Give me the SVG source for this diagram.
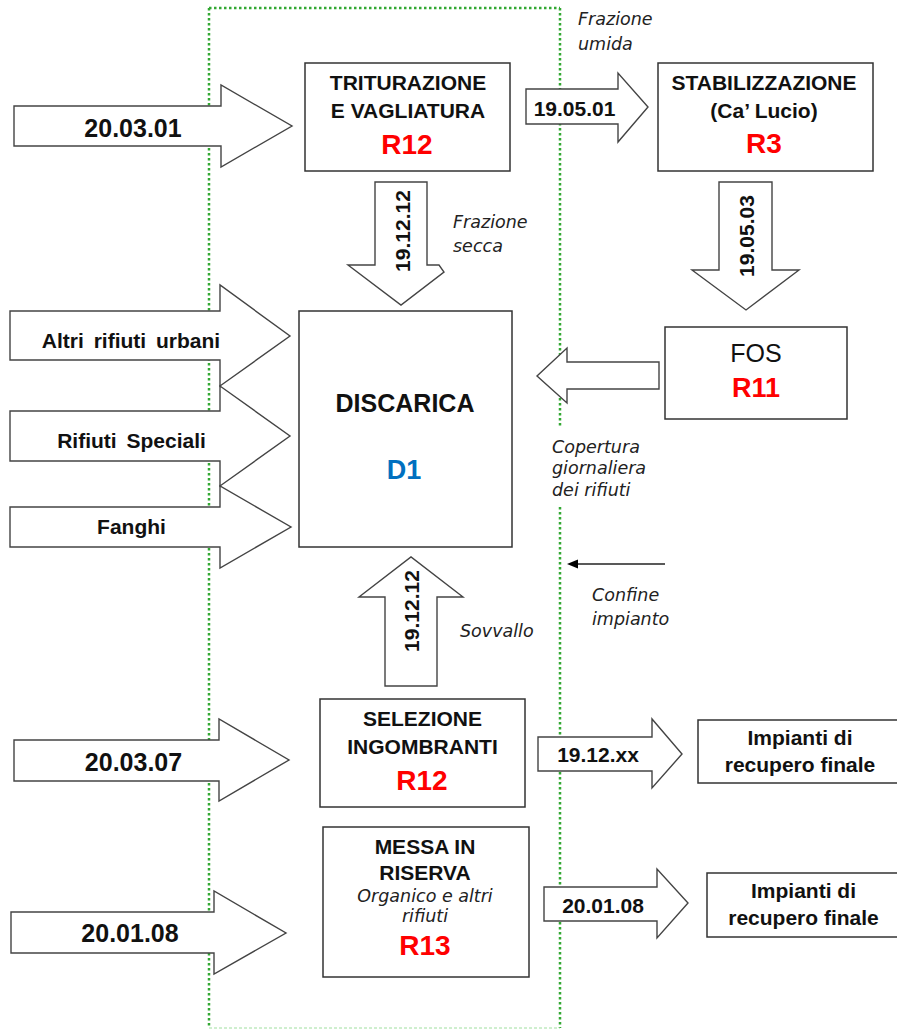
<svg xmlns="http://www.w3.org/2000/svg" width="897" height="1029" viewBox="0 0 897 1029">
<style>
.bg{fill:#ffffff}
.box{fill:#ffffff;stroke:#333333;stroke-width:1.5}
.arr{fill:#ffffff;stroke:#444444;stroke-width:1.4;stroke-linejoin:miter}
.b{font-family:"Liberation Sans",Arial,sans-serif;font-weight:bold;fill:#111111;text-anchor:middle}
.r{font-family:"Liberation Sans",Arial,sans-serif;fill:#111111;text-anchor:middle}
.code{font-family:"Liberation Sans",Arial,sans-serif;font-weight:bold;font-size:28px;fill:#ff0000;text-anchor:middle}
.it{font-family:"DejaVu Sans",Verdana,sans-serif;font-style:italic;font-size:17.5px;fill:#222222}
.f21{font-size:21px}
.f25{font-size:25px}
.green{fill:none;stroke:#33a833;stroke-width:2.5;stroke-dasharray:2.5 2.5}
.green2{fill:none;stroke:#9fdf9f;stroke-width:1;stroke-dasharray:3 2}
</style>
<rect class="bg" x="0" y="0" width="897" height="1029"/>

<g id="boundary">
<line class="green" x1="209" y1="8" x2="560" y2="8"/>
<line class="green" x1="209" y1="8" x2="209" y2="1028"/>
<line class="green" x1="560" y1="8" x2="560" y2="428"/>
<line class="green" x1="560" y1="507" x2="560" y2="1028"/>
<line class="green2" x1="209" y1="1028" x2="560" y2="1028"/>
</g>

<g id="connectors">
<g id="a-200301">
<polygon class="arr" points="14,106 221,106 221,85 292,126 221,167 221,146 14,146"/>
<text class="b f25" x="133" y="137">20.03.01</text>
</g>
<g id="a-191212-down">
<polygon class="arr" points="375,182 427,182 427,265 439,265 444,272 401,305 348,265 375,265"/>
<text class="b f21" transform="translate(409.5,231) rotate(-90)">19.12.12</text>
</g>
<g id="a-190501">
<polygon class="arr" points="526,89 618,89 618,73 648,107 618,142 618,124 526,124"/>
<text class="b f21" x="574.5" y="116">19.05.01</text>
</g>
<g id="a-190503">
<polygon class="arr" points="719,182 772,182 772,270 799,270 746,310 692,270 719,270"/>
<text class="b f21" transform="translate(754,236) rotate(-90)">19.05.03</text>
</g>
<g id="a-fos">
<polygon class="arr" points="659,362 567,362 567,348 537,376 567,403 567,389 659,389"/>
</g>
<g id="a-altri">
<polygon class="arr" points="10,311 220,311 220,285 290,336 220,386 220,360 10,360"/>
<text class="b f21" x="131" y="348" style="word-spacing:4px">Altri rifiuti urbani</text>
</g>
<g id="a-speciali">
<polygon class="arr" points="10,411 220,411 220,386 290,436 220,486 220,461 10,461"/>
<text class="b f21" x="131.5" y="448" style="word-spacing:4px">Rifiuti Speciali</text>
</g>
<g id="a-fanghi">
<polygon class="arr" points="10,507 220,507 220,486 291,527 220,568 220,547 10,547"/>
<text class="b f21" x="131.5" y="534">Fanghi</text>
</g>
<g id="a-191212-up">
<polygon class="arr" points="385,686 437,686 437,597 463,597 411,557 359,597 385,597"/>
<text class="b f21" transform="translate(419,611) rotate(-90)">19.12.12</text>
</g>
<g id="a-200307">
<polygon class="arr" points="14,740 219,740 219,719 289,760 219,801 219,781 14,781"/>
<text class="b f25" x="133.5" y="771">20.03.07</text>
</g>
<g id="a-1912xx">
<polygon class="arr" points="538,737 652,737 652,719 682,754 652,788 652,771 538,771"/>
<text class="b f21" x="598" y="762">19.12.xx</text>
</g>
<g id="a-200108-in">
<polygon class="arr" points="11,912 214,912 214,891 286,933 214,974 214,953 11,953"/>
<text class="b f25" x="130" y="942">20.01.08</text>
</g>
<g id="a-200108-out">
<polygon class="arr" points="544,887 657,887 657,869 688,903 657,938 657,921 544,921"/>
<text class="b f21" x="603" y="913">20.01.08</text>
</g>
<g id="a-confine">
<line x1="665" y1="564" x2="575" y2="564" stroke="#222222" stroke-width="1.3"/>
<polygon points="567,564 578,559.5 578,568.5" fill="#000000"/>
</g>
</g>

<g id="n-triturazione">
<rect class="box" x="305" y="63" width="205" height="108"/>
<text class="b f21" x="408" y="90">TRITURAZIONE</text>
<text class="b f21" x="408" y="118">E VAGLIATURA</text>
<text class="code" x="407" y="154">R12</text>
</g>

<g id="n-stabilizzazione">
<rect class="box" x="658" y="63" width="215" height="108"/>
<text class="b f21" x="764" y="90">STABILIZZAZIONE</text>
<text class="b f21" x="764" y="118">(Ca’ Lucio)</text>
<text class="code" x="764" y="153">R3</text>
</g>

<g id="n-discarica">
<rect class="box" x="299" y="311" width="213" height="236"/>
<text class="b" x="405" y="412" style="font-size:25px">DISCARICA</text>
<text class="b" x="404" y="479" style="font-size:27px;fill:#0070c0">D1</text>
</g>

<g id="n-fos">
<rect class="box" x="665" y="327" width="182" height="92"/>
<text class="r f25" x="756" y="362">FOS</text>
<text class="code" x="756" y="397" style="font-size:27px">R11</text>
</g>

<g id="n-selezione">
<rect class="box" x="320" y="699" width="205" height="108"/>
<text class="b f21" x="422.5" y="726">SELEZIONE</text>
<text class="b f21" x="422.5" y="754">INGOMBRANTI</text>
<text class="code" x="422" y="790">R12</text>
</g>

<g id="n-messa">
<rect class="box" x="323" y="827" width="206" height="150"/>
<text class="b f21" x="425" y="854">MESSA IN</text>
<text class="b f21" x="425" y="880">RISERVA</text>
<text class="it" x="425" y="902" text-anchor="middle">Organico e altri</text>
<text class="it" x="425" y="922" text-anchor="middle">rifiuti</text>
<text class="code" x="425" y="955">R13</text>
</g>

<g id="n-impianti1">
<rect class="box" x="698" y="720" width="210" height="63"/>
<text class="b f21" x="800" y="745">Impianti di</text>
<text class="b f21" x="800" y="772">recupero finale</text>
</g>

<g id="n-impianti2">
<rect class="box" x="707" y="873" width="210" height="64"/>
<text class="b f21" x="803.5" y="898">Impianti di</text>
<text class="b f21" x="803.5" y="925">recupero finale</text>
</g>

<g id="labels">
<text class="it" x="578" y="25">Frazione</text>
<text class="it" x="578" y="50">umida</text>
<text class="it" x="453" y="228">Frazione</text>
<text class="it" x="453" y="252">secca</text>
<text class="it" x="552" y="453">Copertura</text>
<text class="it" x="552" y="474">giornaliera</text>
<text class="it" x="552" y="496">dei rifiuti</text>
<text class="it" x="592" y="601">Confine</text>
<text class="it" x="592" y="625">impianto</text>
<text class="it" x="460" y="637">Sovvallo</text>
</g>
</svg>
